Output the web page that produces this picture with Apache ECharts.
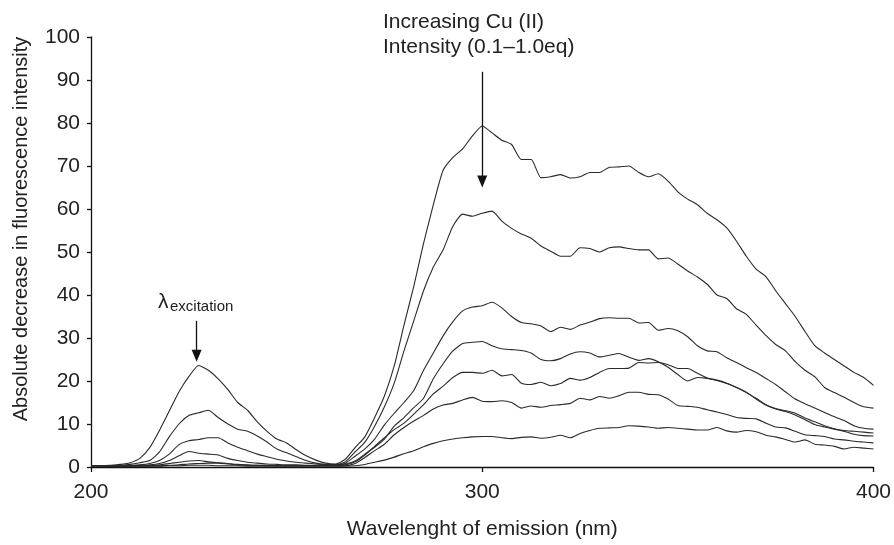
<!DOCTYPE html>
<html>
<head>
<meta charset="utf-8">
<script src="https://cdn.jsdelivr.net/npm/echarts@6/dist/echarts.min.js"></script>
<style>
html,body{margin:0;padding:0;background:#fff;}
#chart{width:894px;height:545px;}
</style>
</head>
<body>
<div id="chart"></div>
<script>
// Wavelength of emission (nm)
const wavelengths = [
  200,202.5,205,207.5,210,212.5,215,217.5,220,222.5,225,227.5,230,232.5,235,237.5,
  240,242.5,245,247.5,250,252.5,255,257.5,260,262.5,265,267.5,270,272.5,275,277.5,
  280,282.5,285,287.5,290,292.5,295,297.5,300,302.5,305,307.5,310,312.5,315,317.5,
  320,322.5,325,327.5,330,332.5,335,337.5,340,342.5,345,347.5,350,352.5,355,357.5,
  360,362.5,365,367.5,370,372.5,375,377.5,380,382.5,385,387.5,390,392.5,395,397.5,400
];
const xTicks = [200, 300, 400];
const yTicks = [0,10,20,30,40,50,60,70,80,90,100];

const curve1 = [0.3,0.3,0.4,0.6,
  1.0,2.0,4.5,8.5,13,17.5,21,23.6,22.5,20.5,18,15,
  13.2,10.5,8.3,6.5,5.6,4,2.6,1.6,0.9,0.7,1.8,4.5,
  7,11.5,16.5,23.5,33,42,52,61,69,72,74,77,
  79.3,77.7,76,75,71.5,71.5,67.3,67.5,68,67.2,67.5,68.5,
  68.5,69.7,69.8,70,68.5,67.5,68.2,66.5,64,62.3,61,59,
  57.5,55.6,52.5,49,46,44.3,41,38,35,31.5,28.2,26.5,
  25,23.5,22,20.8,19];
const curve2 = [0.2,0.2,0.3,0.4,
  0.6,1,1.5,3.5,7,10,12,12.6,13.2,11.5,10,8.8,
  8.3,7.2,5.8,4.2,3.3,2.4,1.5,0.9,0.6,0.5,1.2,3.5,
  5.8,9.5,14,19.5,27,34,41,46.5,50.5,56,58.8,58.3,
  59,59.5,57.2,55.5,54.2,53.2,51.4,50.2,49,49,51,50.8,
  50,51,51.2,50.8,50.5,50.5,48.4,48.6,47.2,45.6,44.2,42.5,
  40,39.2,36.8,35.5,33,30.6,28.5,27,24.5,22.5,21,18.5,
  17.3,16.2,15,14,13.7];
const curve3 = [0.2,0.2,0.3,0.3,
  0.4,0.5,0.8,1.5,3,5.2,6.1,6.4,6.8,6.8,5.6,4.6,
  3.8,3,2.4,1.8,1.4,1.1,0.9,0.7,0.5,0.5,0.9,2.5,
  4.2,6.5,9.8,12.5,15,17.8,22.5,26.5,30.5,33.8,36.3,37.2,
  37.5,38.3,37,35,33.6,33.3,32.8,31.5,32.5,32,33,33.7,
  34.5,34.7,34.6,34.6,33.5,33.6,31.8,32.2,31.7,30.3,28.2,27,
  26.8,25.4,24.3,23.1,22,20.6,19.2,17.5,15.8,14.7,13.7,12.7,
  11.7,10.8,9.6,9,8.8];
const curve4 = [0.2,0.2,0.3,0.3,
  0.3,0.4,0.5,0.8,1.5,2.6,3.6,3.2,3,2.8,2,1.5,
  1.1,0.9,0.7,0.6,0.5,0.5,0.4,0.4,0.4,0.4,0.7,1.4,
  3,4.6,6.5,9.5,11.5,13.8,16,20.5,24,27,28.7,29,
  29.2,28.2,27.5,27.3,27.1,26.5,25,24.7,25.2,26.3,26.8,26.5,
  25.6,26,26.4,25.5,24.8,25.2,24.5,23.2,21.5,20,20.8,20.6,
  20.2,19.5,18.5,17.4,15.8,14.4,13.5,12.9,12.1,11,9.9,9.3,
  8.8,8.3,7.6,7.3,7.2];
const curve5 = [0.3,0.3,0.3,0.3,
  0.3,0.3,0.3,0.5,0.8,1.1,1.4,1.5,1.2,1,0.8,0.6,
  0.5,0.4,0.4,0.3,0.3,0.3,0.3,0.3,0.3,0.3,0.5,1.2,
  2.8,4.8,6.8,8.7,10.2,12.3,14.5,17,18.8,20.8,22,22,
  21.8,22.5,21.2,21.5,19.5,19.2,19.7,18.9,19.4,20.6,20.2,20.8,
  22,22.9,22.9,23,24.3,24.2,24.3,23.8,22.9,22.9,21.8,20.7,
  20.1,19.4,18.5,17.3,16,14.5,13.6,13.1,12.5,11.4,10.5,9.6,
  8.9,8.5,8.3,8.1,7.9];
const curve6 = [0.2,0.2,0.2,0.2,
  0.2,0.2,0.3,0.3,0.4,0.5,0.7,0.8,0.9,0.9,0.7,0.5,
  0.4,0.4,0.3,0.3,0.3,0.3,0.3,0.3,0.3,0.3,0.3,0.8,
  2.2,3.8,5.3,7.5,9.2,10.7,12,13.5,14.4,14.8,15.6,16.2,
  15.3,15.2,15.4,15,13.7,14.2,13.9,14.3,14.5,14.8,16,15.6,
  16.4,16,16.6,17.4,17.4,16.9,16.8,15.8,14.3,14.1,13.9,13.3,
  12.8,12.2,11.5,11.3,11.2,10.2,9.3,9.1,8.3,7.5,7.3,7.1,
  6.5,6.3,6,5.8,5.6];
const curve7 = [0.1,0.1,0.1,0.2,
  0.2,0.2,0.2,0.2,0.3,0.3,0.4,0.4,0.4,0.3,0.3,0.3,
  0.2,0.2,0.2,0.2,0.2,0.2,0.2,0.2,0.2,0.2,0.2,0.3,
  0.6,1.1,1.6,2.3,3.1,3.8,4.7,5.5,6.1,6.5,6.8,7,
  7.1,7.1,6.8,6.6,6.9,7,6.7,6.9,7.4,6.8,7.8,8.5,
  9,9.1,9.2,9.6,9.5,9.3,9,9.2,9,8.8,8.6,8.6,
  9.2,8.4,8.1,8.5,8.2,7.4,7,6.4,5.8,6.3,5.3,5.1,
  4.8,4.2,4.6,4.4,4.2];

const curves = [curve1, curve2, curve3, curve4, curve5, curve6, curve7];
const curveNames = ['Cu(II) 1','Cu(II) 2','Cu(II) 3','Cu(II) 4','Cu(II) 5','Cu(II) 6','Cu(II) 7'];

// annotation arrows in data coordinates [x, yStart, yEnd]
const cuArrow = [300, 91.9, 66.4];
const exArrow = [227, 34.0, 25.9];

const FONT = 'Liberation Sans, Arial, Helvetica, sans-serif';
const chart = echarts.init(document.getElementById('chart'), null, {renderer: 'canvas'});

const series = curves.map((vals, i) => ({
  name: curveNames[i],
  type: 'line',
  data: wavelengths.map((w, j) => [w, vals[j]]),
  showSymbol: false,
  symbol: 'none',
  smooth: 0.2,
  lineStyle: {color: '#2a2a2a', width: 1.1},
  silent: true,
  z: 2
}));

series[0].markLine = {
  silent: true,
  symbol: ['none', 'triangle'],
  symbolSize: [10, 12],
  label: {show: false},
  lineStyle: {color: '#111', width: 1.3, type: 'solid'},
  data: [
    [{coord: [cuArrow[0], cuArrow[1]]}, {coord: [cuArrow[0], cuArrow[2]]}],
    [{coord: [exArrow[0], exArrow[1]]}, {coord: [exArrow[0], exArrow[2]]}]
  ]
};

chart.setOption({
  animation: false,
  backgroundColor: '#fff',
  grid: {left: 91, right: 19, top: 37, bottom: 76, containLabel: false},
  xAxis: {
    type: 'value',
    min: xTicks[0], max: xTicks[xTicks.length - 1], interval: 100,
    name: 'Wavelenght of emission (nm)',
    nameLocation: 'middle', nameGap: 52,
    nameTextStyle: {fontFamily: FONT, fontSize: 21, color: '#222'},
    axisLine: {show: true, onZero: false, lineStyle: {color: '#111', width: 1.3}},
    axisTick: {show: true, inside: false, length: 5, lineStyle: {color: '#111', width: 1.3}},
    axisLabel: {fontFamily: FONT, fontSize: 21, color: '#222', margin: 15},
    splitLine: {show: false}
  },
  yAxis: {
    type: 'value',
    min: yTicks[0], max: yTicks[yTicks.length - 1], interval: 10,
    name: 'Absolute decrease in fluorescence intensity',
    nameLocation: 'middle', nameGap: 60,
    nameTextStyle: {fontFamily: FONT, fontSize: 20, color: '#222', padding: [0, 0, 0, 46]},
    axisLine: {show: true, lineStyle: {color: '#111', width: 1.3}},
    axisTick: {show: true, inside: false, length: 4, lineStyle: {color: '#111', width: 1.3}},
    axisLabel: {fontFamily: FONT, fontSize: 21, color: '#222', margin: 11},
    splitLine: {show: false}
  },
  graphic: [
    {type: 'text', left: 383, top: 12, silent: true,
     style: {text: 'Increasing Cu (II)', font: '21px ' + FONT, fill: '#222'}},
    {type: 'text', left: 383, top: 37, silent: true,
     style: {text: 'Intensity (0.1\u20131.0eq)', font: '21px ' + FONT, fill: '#222'}},
    {type: 'text', left: 158, top: 292, silent: true,
     style: {text: '\u03bb', font: '21px ' + FONT, fill: '#222'}},
    {type: 'text', left: 170, top: 299, silent: true,
     style: {text: 'excitation', font: '15px ' + FONT, fill: '#222'}}
  ],
  series: series
});
</script>
</body>
</html>
